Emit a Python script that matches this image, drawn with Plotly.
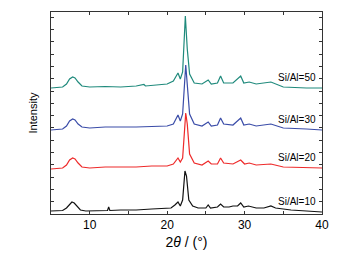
import plotly.graph_objects as go

# 2theta (deg) and intensity (a.u., offset stacked)
theta_10 = [5, 6.5, 7.0, 7.4, 7.7, 8.0, 8.4, 8.8, 9.5, 11, 12.3, 12.45, 12.6, 14, 16, 18, 19.5, 20.5, 21.0, 21.4, 21.7, 22.0, 22.3, 22.5, 22.8, 23.3, 24, 25, 25.3, 25.6, 26.5, 26.9, 27.3, 28, 28.5, 29.1, 29.5, 29.9, 30.5, 31.5, 32.5, 33.4, 34, 36, 38, 40]
int_10 = [3, 3.5, 6, 10, 12, 11, 7, 4, 3, 3, 3.5, 7, 3.5, 4, 4, 5, 5.5, 6, 9, 12, 8, 14, 43, 38, 14, 8, 6, 6, 9, 6, 7, 10, 7, 7, 8, 8, 11, 7, 8, 6, 6, 8, 6, 4, 3, 2]

theta_20 = [5, 6.5, 7.0, 7.4, 7.8, 8.1, 8.5, 9, 10, 12, 14, 16, 18, 20, 20.8, 21.4, 21.7, 22.0, 22.4, 22.6, 22.9, 23.5, 24.5, 25.3, 25.7, 26.5, 26.9, 27.3, 28.5, 29.5, 30, 30.6, 31.5, 33.4, 35, 38, 40]
int_20 = [45, 46, 49, 54, 56, 55, 51, 47, 46, 47, 47, 47, 48, 48, 50, 56, 52, 56, 101, 90, 60, 51, 49, 53, 50, 50, 56, 51, 50, 54, 50, 51, 49, 50, 47, 46, 46]

theta_30 = [5, 6.5, 7.0, 7.4, 7.8, 8.1, 8.5, 9, 10, 12, 16, 20, 20.8, 21.4, 21.7, 22.0, 22.4, 22.6, 22.9, 23.5, 24.5, 25.3, 25.7, 26.5, 26.9, 27.3, 28.5, 29.5, 29.9, 30.6, 31.5, 33.4, 35, 38, 40]
int_30 = [84, 85, 88, 93, 95, 94, 90, 87, 86, 87, 87, 88, 90, 99, 93, 100, 149, 130, 100, 90, 88, 92, 88, 89, 96, 90, 89, 96, 89, 90, 88, 90, 86, 85, 84]

theta_50 = [5, 6.5, 7.0, 7.4, 7.8, 8.1, 8.5, 9, 10, 12, 14, 16, 17, 17.2, 20, 20.8, 21.4, 21.7, 22.0, 22.35, 22.6, 22.9, 23.5, 24.5, 25.3, 25.7, 26.5, 26.9, 27.3, 28.5, 29.5, 29.9, 30.6, 31.5, 33.4, 35, 38, 40]
int_50 = [126, 127, 130, 135, 137, 136, 132, 128, 127, 127.5, 127, 128, 129.5, 128, 130, 133, 141, 135, 142, 198, 165, 140, 131, 130, 134, 130, 131, 138, 131, 131, 138, 131, 132, 130, 132, 127, 126, 126]

labels = ["Si/Al=10", "Si/Al=20", "Si/Al=30", "Si/Al=50"]
label_y = [13, 57, 95, 137]
colors = ["#111111", "#ee2a2a", "#3a4ca8", "#1f8a7c"]

series = [(theta_10, int_10), (theta_20, int_20), (theta_30, int_30), (theta_50, int_50)]

fig = go.Figure()
for (tx, ty), c in zip(series, colors):
    fig.add_trace(go.Scatter(x=tx, y=ty, mode="lines", line=dict(color=c, width=1.2),
                             showlegend=False, hoverinfo="skip"))

for lab, ly in zip(labels, label_y):
    fig.add_annotation(x=39.5, y=ly, text=lab, showarrow=False, xanchor="right",
                       yanchor="middle", font=dict(size=10, color="#000000",
                                                   family="Liberation Sans, Arial, sans-serif"))

axis_common = dict(showgrid=False, zeroline=False, showline=True, linecolor="#333333",
                   linewidth=1, mirror="allticks", ticks="inside", ticklen=3,
                   tickcolor="#333333")

fig.update_layout(
    width=336, height=247,
    margin=dict(l=43, r=22, t=4, b=41),
    paper_bgcolor="white", plot_bgcolor="white",
    font=dict(family="Liberation Sans, Arial, sans-serif", color="#000000", size=11),
    xaxis=dict(range=[5, 40], tickvals=[5, 10, 15, 20, 25, 30, 35, 40],
               ticktext=["", "10", "", "20", "", "30", "", "40"],
               tickfont=dict(size=12),
               title=dict(text="2<i>θ</i> / (°)", font=dict(size=14), standoff=5),
               **axis_common),
    yaxis=dict(range=[0, 202], tick0=0, dtick=12.3, showticklabels=False,
               title=dict(text="Intensity", font=dict(size=11), standoff=10),
               **axis_common),
)

fig.write_html("out.html")
